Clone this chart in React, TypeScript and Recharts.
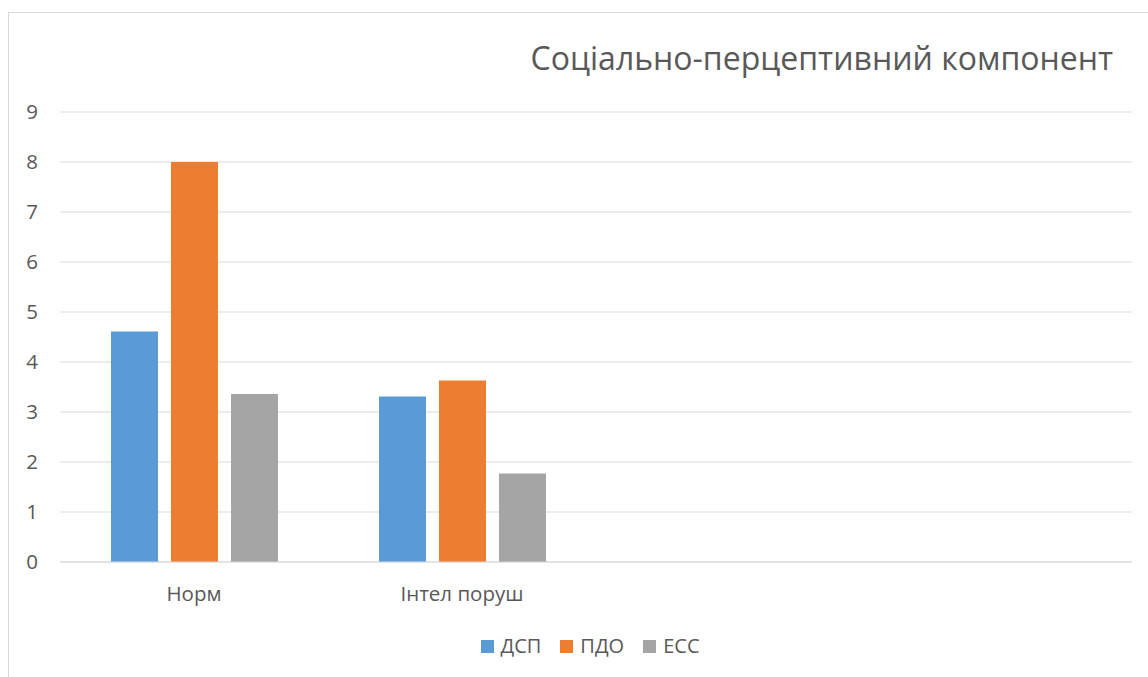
import React from "react";
import { BarChart, Bar, XAxis, YAxis, CartesianGrid, Legend } from "recharts";

const categories = ["Норм", "Інтел поруш", " ", "  "];
const dspValues = [4.61, 3.31, null, null];
const pdoValues = [8.0, 3.63, null, null];
const essValues = [3.36, 1.77, null, null];
const yTicks = [0, 1, 2, 3, 4, 5, 6, 7, 8, 9];
const seriesNames = ["ДСП", "ПДО", "ЕСС"];
const seriesColors = ["#5B9BD5", "#ED7D31", "#A5A5A5"];
const title = "Соціально-перцептивний компонент";

const data = categories.map((c, i) => ({
  name: c,
  s0: dspValues[i],
  s1: pdoValues[i],
  s2: essValues[i],
}));

const FONT = "'Open Sans', 'Noto Sans', sans-serif";
const TEXT = "#595959";

const LegendContent = () => {
  return (
    <div style={{ display: "flex", justifyContent: "center", fontFamily: FONT, fontSize: 20, color: TEXT, lineHeight: "28px" }}>
      {seriesNames.map((n, i) => (
        <div key={i} style={{ display: "flex", alignItems: "center", marginRight: i < seriesNames.length - 1 ? 19 : 0 }}>
          <span style={{ display: "inline-block", width: 13, height: 13, background: seriesColors[i], marginRight: 7 }} />
          <span>{n}</span>
        </div>
      ))}
    </div>
  );
};

export default function App() {
  return (
    <div style={{ position: "fixed", left: 0, top: 0, width: 1148, height: 677, overflow: "hidden", background: "#fff" }}>
      <div style={{ position: "absolute", left: 8, top: 12, width: 1200, height: 700, border: "1px solid #d9d9d9", boxSizing: "border-box" }} />
      <div style={{ position: "absolute", right: 35, top: 42, fontFamily: FONT, fontSize: 32, lineHeight: 1, color: TEXT, whiteSpace: "nowrap" }}>
        {title}
      </div>
      <div style={{ position: "absolute", left: 0, top: 0 }}>
        <BarChart
          width={1148}
          height={677}
          data={data}
          margin={{ top: 112, right: 16, bottom: 0, left: 0 }}
          barCategoryGap={51}
          barGap={13}
        >
          <CartesianGrid vertical={false} stroke="#d9d9d9" strokeWidth={1.2} />
          <XAxis
            dataKey="name"
            axisLine={{ stroke: "#d9d9d9", strokeWidth: 1.2 }}
            tickLine={false}
            tickSize={0}
            tickMargin={24}
            height={115}
            tick={{ fill: TEXT, fontSize: 20.5, fontFamily: FONT }}
            interval={0}
          />
          <YAxis
            width={60}
            domain={[0, 9]}
            ticks={yTicks}
            axisLine={false}
            tickLine={false}
            tickSize={0}
            tickMargin={22}
            tick={{ fill: TEXT, fontSize: 20.5, fontFamily: FONT }}
          />
          <Legend
            verticalAlign="middle"
            align="center"
            layout="horizontal"
            content={<LegendContent />}
            wrapperStyle={{ top: 632, left: 0, width: 1180 }}
          />
          <Bar dataKey="s0" name={seriesNames[0]} fill={seriesColors[0]} isAnimationActive={false} />
          <Bar dataKey="s1" name={seriesNames[1]} fill={seriesColors[1]} isAnimationActive={false} />
          <Bar dataKey="s2" name={seriesNames[2]} fill={seriesColors[2]} isAnimationActive={false} />
        </BarChart>
      </div>
    </div>
  );
}
